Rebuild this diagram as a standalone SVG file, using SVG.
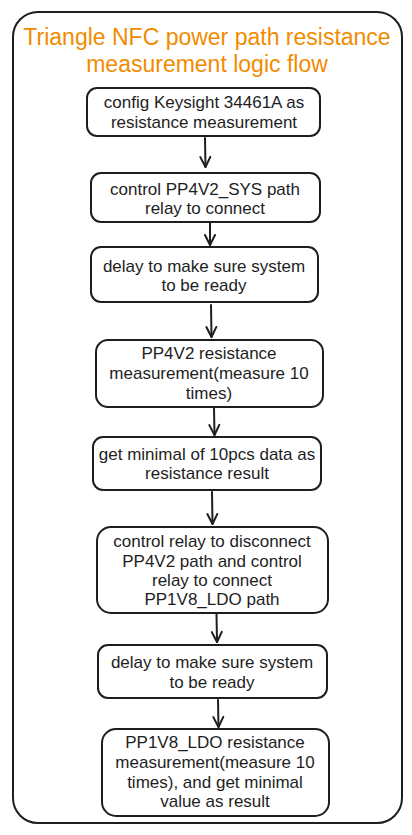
<svg xmlns="http://www.w3.org/2000/svg" width="412" height="835" viewBox="0 0 412 835">
<defs>
<style>
.frame{fill:none;stroke:#1e1e1e;stroke-width:2}
.box{fill:#ffffff;stroke:#1e1e1e;stroke-width:2}
.t{font-family:"Liberation Sans",Arial,Helvetica,sans-serif;font-size:17px;fill:#1e1e1e;text-anchor:middle}
.title{font-family:"Liberation Sans",Arial,Helvetica,sans-serif;font-size:23px;fill:#f08c00;text-anchor:middle}
.conn{fill:none;stroke:#1e1e1e;stroke-width:2;stroke-linecap:round}
</style>
<marker id="arr" markerUnits="userSpaceOnUse" markerWidth="14" markerHeight="14" viewBox="0 0 14 14" refX="12" refY="7" orient="auto">
<path d="M2,2 L12,7 L2,12" fill="none" stroke="#1e1e1e" stroke-width="2" stroke-linecap="round" stroke-linejoin="round"/>
</marker>
</defs>
<rect width="412" height="835" fill="#ffffff"/>
<g id="frame">
<rect class="frame" x="13" y="12" width="389" height="811" rx="25"/>
<text class="title" x="207" y="45">Triangle NFC power path resistance</text>
<text class="title" x="207" y="72">measurement logic flow</text>
</g>
<g id="connectors">
<path class="conn" d="M205,138 L205.5,167" marker-end="url(#arr)"/>
<path class="conn" d="M210,223 L210,245" marker-end="url(#arr)"/>
<path class="conn" d="M211,305 L211.5,337" marker-end="url(#arr)"/>
<path class="conn" d="M214,408 L214.5,435" marker-end="url(#arr)"/>
<path class="conn" d="M212,492 L212.5,524" marker-end="url(#arr)"/>
<path class="conn" d="M216.5,614 L217,642" marker-end="url(#arr)"/>
<path class="conn" d="M218,700 L218.5,727" marker-end="url(#arr)"/>
</g>
<g id="n1">
<rect class="box" x="87" y="88" width="233" height="48" rx="10"/>
<text class="t" x="204" y="108">config Keysight 34461A as</text>
<text class="t" x="204" y="128">resistance measurement</text>
</g>
<g id="n2">
<rect class="box" x="91" y="173" width="229" height="49" rx="10"/>
<text class="t" x="205" y="195">control PP4V2_SYS path</text>
<text class="t" x="205" y="214">relay to connect</text>
</g>
<g id="n3">
<rect class="box" x="91" y="247" width="227" height="55" rx="10"/>
<text class="t" x="204" y="272">delay to make sure system</text>
<text class="t" x="204" y="291">to be ready</text>
</g>
<g id="n4">
<rect class="box" x="96" y="340" width="227" height="67" rx="12"/>
<text class="t" x="209" y="359">PP4V2 resistance</text>
<text class="t" x="209" y="379">measurement(measure 10</text>
<text class="t" x="209" y="399">times)</text>
</g>
<g id="n5">
<rect class="box" x="93" y="437" width="228" height="53" rx="10"/>
<text class="t" x="207" y="460">get minimal of 10pcs data as</text>
<text class="t" x="207" y="479">resistance result</text>
</g>
<g id="n6">
<rect class="box" x="97" y="527" width="231" height="86" rx="14"/>
<text class="t" x="212" y="547">control relay to disconnect</text>
<text class="t" x="212" y="567">PP4V2 path and control</text>
<text class="t" x="212" y="586">relay to connect</text>
<text class="t" x="212" y="605">PP1V8_LDO path</text>
</g>
<g id="n7">
<rect class="box" x="98" y="645" width="229" height="53" rx="10"/>
<text class="t" x="212" y="668">delay to make sure system</text>
<text class="t" x="212" y="688">to be ready</text>
</g>
<g id="n8">
<rect class="box" x="102" y="729" width="227" height="87" rx="14"/>
<text class="t" x="215" y="748">PP1V8_LDO resistance</text>
<text class="t" x="215" y="768">measurement(measure 10</text>
<text class="t" x="215" y="788">times), and get minimal</text>
<text class="t" x="215" y="807">value as result</text>
</g>
</svg>
